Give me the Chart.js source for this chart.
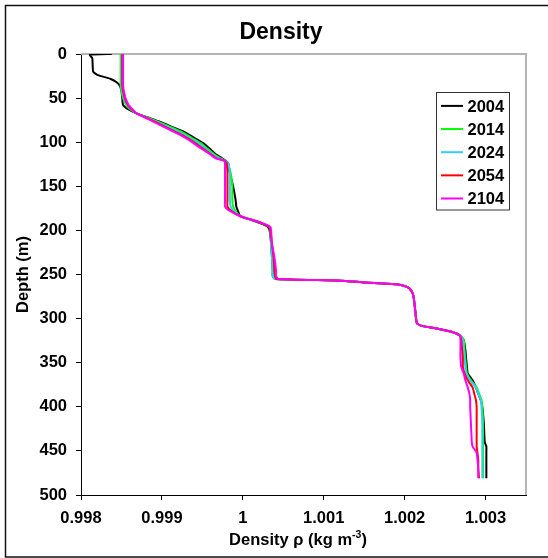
<!DOCTYPE html>
<html>
<head>
<meta charset="utf-8">
<script src="https://cdn.jsdelivr.net/npm/chart.js@4.4.1/dist/chart.umd.min.js"></script>
<style>
  body { margin: 0; background: #fff; }
  #wrap { width: 548px; height: 558px; }
</style>
</head>
<body>
<div id="wrap"><canvas id="myChart" width="548" height="558"></canvas></div>
<script>
// depth grid (m), shared by every profile
const depths = [0, 1, 5, 20, 24, 28, 32, 36, 42, 50, 58, 62, 67, 72, 77, 82, 88, 94, 101, 108,
  114, 118, 121, 124, 135, 150, 165, 173, 178, 184, 188, 192, 196, 200, 215, 230, 245, 252, 255, 257,
  259, 261, 264, 268, 275, 290, 305, 308, 311, 315, 319, 324, 335, 345, 355, 362, 370, 378, 385, 392,
  400, 420, 440, 445, 452, 460, 470, 481];

// density profiles per year
const rho2004 = [0.99838, 0.99811, 0.99814, 0.99815, 0.99821, 0.99836, 0.99844, 0.99848, 0.99850, 0.99851,
  0.99852, 0.99857, 0.99868, 0.99883, 0.99898, 0.99911, 0.99927, 0.99938, 0.99951, 0.99960,
  0.99967, 0.99974, 0.99979, 0.99982, 0.99984, 0.99988, 0.99991, 0.99992, 0.99994, 0.99997,
  1.00010, 1.00022, 1.00031, 1.00033, 1.00035, 1.00036, 1.00037, 1.00037, 1.00040, 1.00121,
  1.00151, 1.00190, 1.00203, 1.00208, 1.00211, 1.00213, 1.00215, 1.00220, 1.00238, 1.00258,
  1.00268, 1.00273, 1.00275, 1.00276, 1.00277, 1.00278, 1.00284, 1.00288, 1.00291, 1.00294,
  1.00296, 1.00298, 1.00299, 1.00301, 1.00301, 1.00301, 1.00301, 1.00301];

const rho2014 = [0.99849, 0.99849, 0.99849, 0.99849, 0.99849, 0.99849, 0.99849, 0.99849, 0.99850, 0.99852,
  0.99856, 0.99860, 0.99868, 0.99882, 0.99896, 0.99909, 0.99924, 0.99935, 0.99948, 0.99957,
  0.99965, 0.99972, 0.99978, 0.99981, 0.99985, 0.99987, 0.99987, 0.99988, 0.99991, 0.99997,
  1.00011, 1.00024, 1.00033, 1.00034, 1.00035, 1.00036, 1.00037, 1.00038, 1.00040, 1.00121,
  1.00151, 1.00190, 1.00203, 1.00208, 1.00211, 1.00213, 1.00215, 1.00220, 1.00238, 1.00258,
  1.00268, 1.00273, 1.00274, 1.00275, 1.00276, 1.00277, 1.00282, 1.00289, 1.00292, 1.00295,
  1.00296, 1.00297, 1.00297, 1.00297, 1.00297, 1.00297, 1.00297, 1.00297];

const rho2024 = [0.99850, 0.99850, 0.99850, 0.99850, 0.99850, 0.99850, 0.99850, 0.99850, 0.99851, 0.99853,
  0.99857, 0.99861, 0.99868, 0.99881, 0.99894, 0.99906, 0.99920, 0.99932, 0.99945, 0.99955,
  0.99963, 0.99970, 0.99978, 0.99982, 0.99984, 0.99984, 0.99984, 0.99985, 0.99989, 0.99997,
  1.00011, 1.00024, 1.00033, 1.00034, 1.00035, 1.00036, 1.00037, 1.00037, 1.00039, 1.00121,
  1.00151, 1.00190, 1.00203, 1.00208, 1.00211, 1.00213, 1.00215, 1.00220, 1.00238, 1.00258,
  1.00268, 1.00272, 1.00273, 1.00274, 1.00275, 1.00276, 1.00281, 1.00288, 1.00291, 1.00294,
  1.00295, 1.00296, 1.00296, 1.00296, 1.00296, 1.00296, 1.00296, 1.00296];

const rho2054 = [0.99851, 0.99851, 0.99851, 0.99851, 0.99851, 0.99851, 0.99851, 0.99851, 0.99852, 0.99854,
  0.99858, 0.99862, 0.99868, 0.99880, 0.99892, 0.99903, 0.99916, 0.99929, 0.99941, 0.99952,
  0.99961, 0.99967, 0.99977, 0.99980, 0.99981, 0.99981, 0.99981, 0.99981, 0.99986, 0.99997,
  1.00011, 1.00024, 1.00033, 1.00034, 1.00036, 1.00038, 1.00039, 1.00040, 1.00041, 1.00121,
  1.00151, 1.00190, 1.00203, 1.00208, 1.00211, 1.00213, 1.00215, 1.00220, 1.00238, 1.00258,
  1.00268, 1.00270, 1.00271, 1.00272, 1.00272, 1.00274, 1.00278, 1.00284, 1.00286, 1.00288,
  1.00289, 1.00289, 1.00289, 1.00289, 1.00290, 1.00291, 1.00291, 1.00292];

const rho2104 = [0.99852, 0.99852, 0.99852, 0.99852, 0.99852, 0.99852, 0.99852, 0.99852, 0.99853, 0.99855,
  0.99859, 0.99863, 0.99868, 0.99879, 0.99890, 0.99901, 0.99914, 0.99927, 0.99939, 0.99950,
  0.99960, 0.99966, 0.99977, 0.99978, 0.99978, 0.99978, 0.99978, 0.99978, 0.99984, 0.99997,
  1.00011, 1.00025, 1.00034, 1.00035, 1.00036, 1.00039, 1.00041, 1.00041, 1.00044, 1.00121,
  1.00151, 1.00190, 1.00203, 1.00208, 1.00211, 1.00213, 1.00215, 1.00220, 1.00238, 1.00258,
  1.00268, 1.00269, 1.00269, 1.00269, 1.00270, 1.00273, 1.00275, 1.00278, 1.00280, 1.00281,
  1.00281, 1.00282, 1.00283, 1.00284, 1.00289, 1.00290, 1.00291, 1.00291];

const years = ['2004', '2014', '2024', '2054', '2104'];
const profiles = [rho2004, rho2014, rho2024, rho2054, rho2104];

const xTicks = [0.998, 0.999, 1, 1.001, 1.002, 1.003];
const xTickLabels = ['0.998', '0.999', '1', '1.001', '1.002', '1.003'];
const yTicks = [0, 50, 100, 150, 200, 250, 300, 350, 400, 450, 500];

const lineColors = ['#000000', '#00ff00', '#33ccff', '#ff0000', '#ff00ff'];
const FONT = '"Liberation Sans", Arial, sans-serif';

Chart.defaults.font.family = FONT;
Chart.defaults.color = '#000';

// frame, titles and the boxed legend inside the plot
const decor = {
  id: 'decor',
  beforeDraw(chart) {
    const ctx = chart.ctx;
    ctx.save();
    ctx.fillStyle = '#fff';
    ctx.fillRect(0, 0, chart.width, chart.height);
    ctx.strokeStyle = '#111';
    ctx.lineWidth = 1.5;
    ctx.strokeRect(5.5, 5.5, 600, 551.5);
    ctx.restore();
  },
  beforeDatasetsDraw(chart) {
    const ctx = chart.ctx;
    const a = chart.chartArea;
    ctx.save();
    ctx.strokeStyle = '#b4b4b4';
    ctx.lineWidth = 2;
    ctx.beginPath();
    ctx.moveTo(a.left, a.top);
    ctx.lineTo(a.right, a.top);
    ctx.lineTo(a.right, a.bottom);
    ctx.stroke();
    ctx.restore();
  },
  afterDraw(chart) {
    const ctx = chart.ctx;
    ctx.save();

    // chart title
    ctx.fillStyle = '#000';
    ctx.font = 'bold 23px ' + FONT;
    ctx.textAlign = 'center';
    ctx.textBaseline = 'alphabetic';
    ctx.fillText('Density', 281, 38.5);

    // x axis title with superscript
    const main = 'Density ρ (kg m';
    const sup = '-3';
    const close = ')';
    const bigFont = 'bold 16.5px ' + FONT;
    const supFont = 'bold 10.5px ' + FONT;
    ctx.font = bigFont;
    const wMain = ctx.measureText(main).width;
    const wClose = ctx.measureText(close).width;
    ctx.font = supFont;
    const wSup = ctx.measureText(sup).width;
    let x = 298 - (wMain + wSup + wClose) / 2;
    const base = 545;
    ctx.textAlign = 'left';
    ctx.font = bigFont;
    ctx.fillText(main, x, base);
    x += wMain;
    ctx.font = supFont;
    ctx.fillText(sup, x, base - 7);
    x += wSup;
    ctx.font = bigFont;
    ctx.fillText(close, x, base);

    // legend box
    ctx.strokeStyle = '#333';
    ctx.lineWidth = 1;
    ctx.strokeRect(436.5, 92.5, 73, 117.5);
    ctx.font = 'bold 16.5px ' + FONT;
    chart.data.datasets.forEach((ds, i) => {
      const yb = 111.7 + i * 23.15;
      ctx.strokeStyle = ds.borderColor;
      ctx.lineWidth = 2;
      ctx.beginPath();
      ctx.moveTo(441, yb - 5.8);
      ctx.lineTo(463, yb - 5.8);
      ctx.stroke();
      ctx.fillStyle = '#000';
      ctx.fillText(ds.label, 467.5, yb);
    });
    ctx.restore();
  }
};

const datasets = years.map((yr, i) => ({
  label: yr,
  data: depths.map((d, k) => ({ x: profiles[i][k], y: d })),
  borderColor: lineColors[i],
  backgroundColor: lineColors[i],
  borderWidth: 2,
  pointRadius: 0,
  showLine: true,
  tension: 0.15,
  order: years.length - 1 - i
}));

const ctx = document.getElementById('myChart');
const chart = new Chart(ctx, {
  type: 'scatter',
  data: { datasets: datasets },
  plugins: [decor],
  options: {
    responsive: false,
    animation: false,
    layout: { padding: { left: 0, top: 54, right: 22, bottom: 0 } },
    plugins: {
      legend: { display: false },
      title: { display: false },
      tooltip: { enabled: false }
    },
    scales: {
      x: {
        type: 'linear',
        position: 'bottom',
        min: 0.998,
        max: 1.0035,
        afterBuildTicks: (scale) => { scale.ticks = xTicks.map(v => ({ value: v })); },
        afterFit: (scale) => { scale.height = 63; },
        ticks: {
          padding: 9,
          maxRotation: 0,
          font: { size: 16.5, weight: 'bold' },
          callback: (v, i) => xTickLabels[i]
        },
        grid: { drawOnChartArea: false, drawTicks: true, tickLength: 5, tickColor: '#000', tickWidth: 1 },
        border: { color: '#000', width: 1 }
      },
      y: {
        type: 'linear',
        reverse: true,
        min: 0,
        max: 500,
        afterBuildTicks: (scale) => { scale.ticks = yTicks.map(v => ({ value: v })); },
        afterFit: (scale) => { scale.width = 81; },
        ticks: {
          padding: 9,
          font: { size: 16.5, weight: 'bold' },
          callback: (v) => String(v)
        },
        title: {
          display: true,
          text: 'Depth (m)',
          font: { size: 16.5, weight: 'bold' },
          padding: { top: 13.5, bottom: 0 }
        },
        grid: { drawOnChartArea: false, drawTicks: true, tickLength: 5, tickColor: '#000', tickWidth: 1 },
        border: { color: '#000', width: 1 }
      }
    }
  }
});
</script>
</body>
</html>
